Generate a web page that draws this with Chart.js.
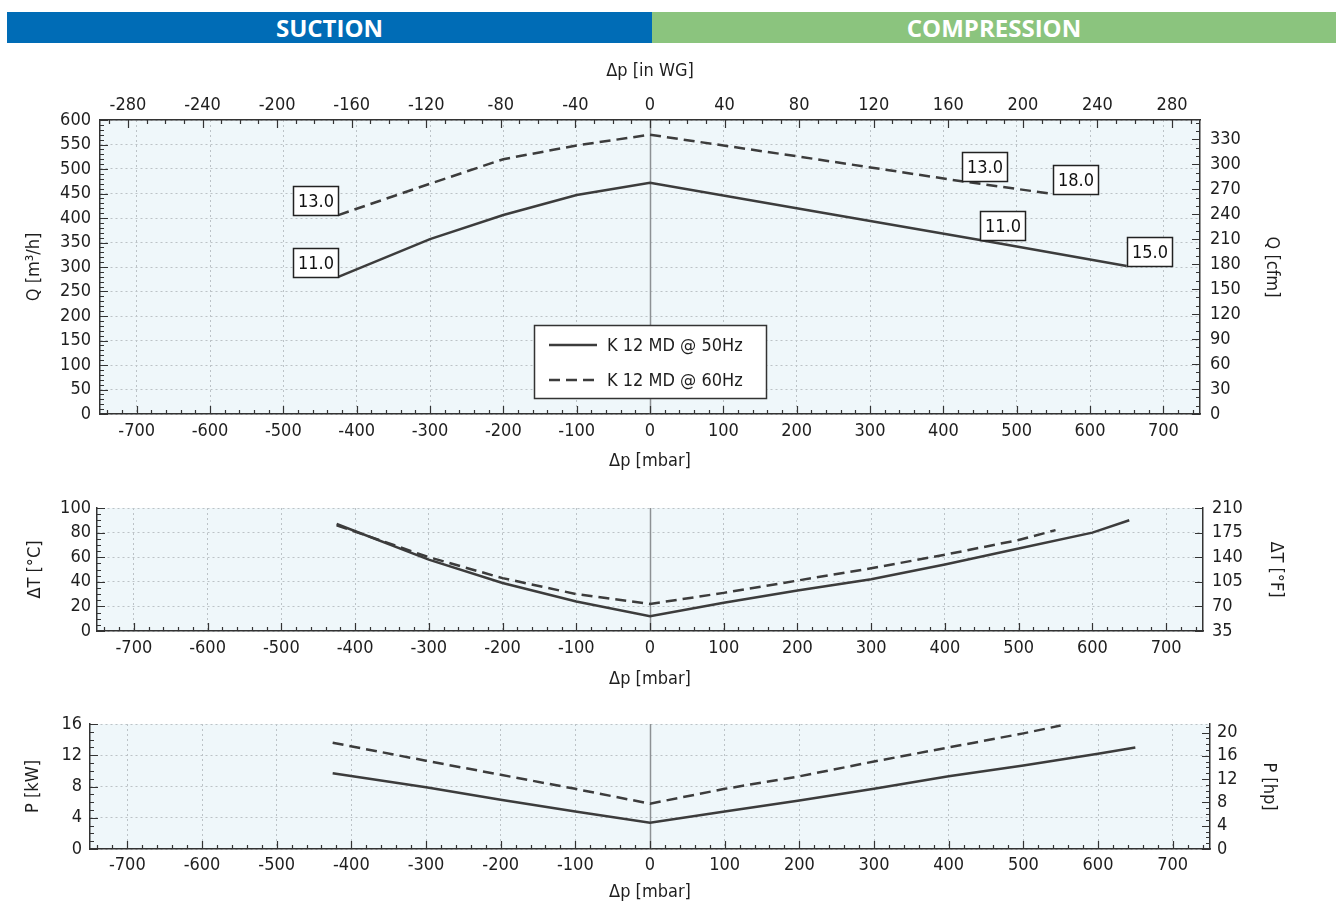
<!DOCTYPE html>
<html><head><meta charset="utf-8">
<script src="https://cdn.jsdelivr.net/npm/chart.js@4.4.1/dist/chart.umd.min.js"></script>
<style>
html,body{margin:0;padding:0;background:#fff;width:1336px;height:903px;overflow:hidden;position:relative}
.band{position:absolute;top:12px;height:31px;color:#fff;font:bold 24px 'Open Sans',sans-serif;display:flex;align-items:center;justify-content:center;}
#suction{left:7px;width:645px;background:#006cb6}
#compression{left:652px;width:684px;background:#8bc47e}
.cv{position:absolute;left:0;width:1336px}
</style></head><body>
<div class="band" id="suction">SUCTION</div>
<div class="band" id="compression">COMPRESSION</div>
<div class="cv" style="top:50px;height:430px"><canvas id="c1"></canvas></div>
<div class="cv" style="top:490px;height:210px"><canvas id="c2"></canvas></div>
<div class="cv" style="top:705px;height:198px"><canvas id="c3"></canvas></div>
<script>
// ---------- data ----------
const seriesLabels = ['K 12 MD @ 50Hz', 'K 12 MD @ 60Hz'];

const dpMin = -750, dpMax = 750;
const dpTicks = [-700,-600,-500,-400,-300,-200,-100,0,100,200,300,400,500,600,700];
const wgMin = -295, wgMax = 295;
const wgTicks = [-280,-240,-200,-160,-120,-80,-40,0,40,80,120,160,200,240,280];

// Flow chart
const qTicks = [0,50,100,150,200,250,300,350,400,450,500,550,600];
const cfmTicks = [0,30,60,90,120,150,180,210,240,270,300,330];
const qMax = 600, cfmMax = 353.2;
const dpQ50 = [-425,-300,-200,-100,0,200,450,650];
const q50   = [280,357,406,447,472,420,355,302];
const dpQ60 = [-425,-300,-200,-100,0,200,425,550];
const q60   = [406,470,520,548,570,526,475,449];
const markDp50 = [-425,450,650];
const markTxt50 = ['11.0','11.0','15.0'];
const markDp60 = [-425,425,550];
const markTxt60 = ['13.0','13.0','18.0'];

// Temperature chart
const tTicks = [0,20,40,60,80,100];
const fTicks = [35,70,105,140,175,210];
const tMax = 100, fMin = 35, fMax = 210;
const dpT50 = [-425,-300,-200,-100,0,100,200,300,400,500,600,650];
const t50   = [87,58,39,24,12,23,33,42,54,67,80,90];
const dpT60 = [-425,-300,-200,-100,0,100,200,300,400,500,550];
const t60   = [86,60,43,30,22,31,41,51,62,74,82];

// Power chart
const pTicks = [0,4,8,12,16];
const hpTicks = [0,4,8,12,16,20];
const pMax = 16, hpMax = 21.46;
const dpP50 = [-425,-300,-200,-100,0,100,200,300,400,500,600,650];
const p50   = [9.7,7.9,6.3,4.8,3.35,4.8,6.2,7.7,9.3,10.7,12.2,13.0];
const dpP60 = [-425,-300,-200,-100,0,100,200,300,400,500,550];
const p60   = [13.6,11.3,9.5,7.7,5.8,7.7,9.3,11.2,13.0,14.8,15.8];

// ---------- styling ----------
const FONT = "'DejaVu Sans Condensed','DejaVu Sans',sans-serif";
const TXT = '#1e1e1e';
const LINE = '#3c3c3c';
const GRID = '#bcc3c7';
const PLOT_BG = '#eff7fa';
const DASH = [11,6];

function zip(xs, ys){ return xs.map((x,i)=>({x:x, y:ys[i]})); }
function setTicks(arr){ return s => { s.ticks = arr.map(v => ({value:v})); }; }

function datasets(d50x,d50y,d60x,d60y){
  return [
    {label:seriesLabels[0], data:zip(d50x,d50y), borderColor:LINE, borderWidth:2.5, pointRadius:0, fill:false, tension:0, yAxisID:'y'},
    {label:seriesLabels[1], data:zip(d60x,d60y), borderColor:LINE, borderWidth:2.5, pointRadius:0, fill:false, tension:0, borderDash:DASH, yAxisID:'y'}
  ];
}

function xAxis(height, tickPad, titlePadBottom){
  return {
    type:'linear', position:'bottom', min:dpMin, max:dpMax,
    afterBuildTicks:setTicks(dpTicks),
    afterFit: s => { s.height = height; s.paddingLeft = 0; s.paddingRight = 0; },
    ticks:{font:{family:FONT,size:18}, color:TXT, padding:tickPad, maxRotation:0, autoSkip:false, callback:v=>String(v)},
    grid:{color:GRID, lineWidth:1, drawTicks:false},
    border:{display:true, color:'#333', width:1.5, dash:[2,3]},
    title:{display:true, text:'Δp [mbar]', font:{family:FONT,size:18}, color:TXT, padding:{top:0,bottom:titlePadBottom}}
  };
}
function yAxis(pos, width, min, max, ticksArr, title, tickPad, titlePad, grid){
  return {
    type:'linear', position:pos, min:min, max:max,
    afterBuildTicks:setTicks(ticksArr),
    afterFit: s => { s.width = width; s.paddingTop = 0; s.paddingBottom = 0; },
    ticks:{font:{family:FONT,size:18}, color:TXT, padding:tickPad, autoSkip:false, callback:v=>String(v)},
    grid:{display:grid, color:GRID, lineWidth:1, drawTicks:false},
    border:{display:true, color:'#333', width:1.5, dash:[2,3]},
    title:{display:true, text:title, font:{family:FONT,size:18}, color:TXT, padding:{top:titlePad,bottom:0}}
  };
}

function makeDeco(tickSpecs, extra){
  return {
    id:'deco',
    beforeDraw(chart){
      const {ctx, chartArea:a} = chart;
      ctx.save(); ctx.fillStyle = PLOT_BG;
      ctx.fillRect(a.left, a.top, a.right-a.left, a.bottom-a.top); ctx.restore();
    },
    beforeDatasetsDraw(chart){
      const {ctx, chartArea:a} = chart;
      const p = Math.round(chart.scales.x.getPixelForValue(0)) + 0.5;
      ctx.save(); ctx.strokeStyle = '#8d9194'; ctx.lineWidth = 1.5;
      ctx.beginPath(); ctx.moveTo(p, a.top); ctx.lineTo(p, a.bottom); ctx.stroke(); ctx.restore();
    },
    afterDraw(chart){
      const {ctx, chartArea:a} = chart;
      ctx.save(); ctx.strokeStyle = '#333'; ctx.lineWidth = 1.2;
      for (const sp of tickSpecs){
        const s = chart.scales[sp.id];
        const vals = sp.majors.map(v => [v, 8]);
        if (sp.minor){
          const start = Math.ceil(s.min / sp.minor) * sp.minor;
          for (let v = start; v <= s.max + 1e-9; v += sp.minor){
            if (!sp.majors.some(m => Math.abs(m - v) < 1e-6)) vals.push([v, 4]);
          }
        }
        ctx.beginPath();
        for (const [v, len] of vals){
          const p = Math.round(s.getPixelForValue(v)) + 0.5;
          if (sp.side === 'bottom'){ ctx.moveTo(p, a.bottom); ctx.lineTo(p, a.bottom - len); }
          else if (sp.side === 'top'){ ctx.moveTo(p, a.top); ctx.lineTo(p, a.top + len); }
          else if (sp.side === 'left'){ ctx.moveTo(a.left, p); ctx.lineTo(a.left + len, p); }
          else { ctx.moveTo(a.right, p); ctx.lineTo(a.right - len, p); }
        }
        ctx.stroke();
      }
      ctx.restore();
      if (extra) extra(chart);
    }
  };
}

function drawMarksAndLegend(chart){
  const {ctx} = chart; const xs = chart.scales.x, ys = chart.scales.y;
  ctx.save();
  ctx.font = '18px ' + FONT; ctx.textAlign = 'center'; ctx.textBaseline = 'middle';
  const groups = [[dpQ50,q50,markDp50,markTxt50],[dpQ60,q60,markDp60,markTxt60]];
  for (const [dps, qs, mds, mts] of groups){
    mds.forEach((d, i) => {
      const q = qs[dps.indexOf(d)];
      const px = xs.getPixelForValue(d), py = ys.getPixelForValue(q);
      const w = 45, h = 29;
      const bx = Math.round(d < 0 ? px - w : px) + 0.5;
      const by = Math.round(py - h) + 0.5;
      ctx.fillStyle = '#fff'; ctx.fillRect(bx, by, w, h);
      ctx.strokeStyle = '#222'; ctx.lineWidth = 1.5; ctx.strokeRect(bx, by, w, h);
      ctx.fillStyle = '#111'; ctx.fillText(mts[i], bx + w/2, by + h/2 + 1);
    });
  }
  // legend
  const lx = 534.5, ly = 275.5, lw = 232, lh = 73;
  ctx.fillStyle = '#fff'; ctx.fillRect(lx, ly, lw, lh);
  ctx.strokeStyle = '#333'; ctx.lineWidth = 1.5; ctx.strokeRect(lx, ly, lw, lh);
  const rows = [[295, []], [330, DASH]];
  rows.forEach(([yy, dash], i) => {
    ctx.strokeStyle = LINE; ctx.lineWidth = 2.5; ctx.setLineDash(dash);
    ctx.beginPath(); ctx.moveTo(549, yy); ctx.lineTo(597, yy); ctx.stroke();
    ctx.setLineDash([]);
    ctx.fillStyle = TXT; ctx.textAlign = 'left'; ctx.font = '18px ' + FONT;
    ctx.fillText(seriesLabels[i], 607, yy + 1);
  });
  ctx.restore();
}

const base = {responsive:true, maintainAspectRatio:false, animation:false, events:[],
  plugins:{legend:{display:false}, tooltip:{enabled:false}}};

// Chart 1: flow
new Chart(document.getElementById('c1'), {
  type:'line',
  data:{datasets:datasets(dpQ50,q50,dpQ60,q60)},
  options:Object.assign({}, base, {
    layout:{padding:0},
    scales:{
      x: xAxis(66, 7, 8),
      x2:{type:'linear', position:'top', min:wgMin, max:wgMax,
        afterBuildTicks:setTicks(wgTicks),
        afterFit: s => { s.height = 70; s.paddingLeft = 0; s.paddingRight = 0; },
        ticks:{font:{family:FONT,size:18}, color:TXT, padding:4, maxRotation:0, autoSkip:false, callback:v=>String(v)},
        grid:{display:false, drawTicks:false},
        border:{display:true, color:'#333', width:1.5},
        title:{display:true, text:'Δp [in WG]', font:{family:FONT,size:18}, color:TXT, padding:{top:11,bottom:0}}},
      y: yAxis('left', 100, 0, qMax, qTicks, 'Q [m³/h]', 9, 24, true),
      y2: yAxis('right', 136, 0, cfmMax, cfmTicks, 'Q [cfm]', 10, 54, false)
    }
  }),
  plugins:[makeDeco([
    {id:'x', majors:dpTicks, minor:20, side:'bottom'},
    {id:'x2', majors:wgTicks, minor:10, side:'top'},
    {id:'y', majors:qTicks, minor:10, side:'left'},
    {id:'y2', majors:cfmTicks, minor:10, side:'right'}
  ], drawMarksAndLegend)]
});

// Chart 2: temperature
new Chart(document.getElementById('c2'), {
  type:'line',
  data:{datasets:datasets(dpT50,t50,dpT60,t60)},
  options:Object.assign({}, base, {
    layout:{padding:{top:18,left:0,right:0,bottom:0}},
    scales:{
      x: xAxis(69, 7, 10),
      y: yAxis('left', 97, 0, tMax, tTicks, 'ΔT [°C]', 6, 25, true),
      y2: yAxis('right', 133, fMin, fMax, fTicks, 'ΔT [°F]', 9, 50, false)
    }
  }),
  plugins:[makeDeco([
    {id:'x', majors:dpTicks, minor:20, side:'bottom'},
    {id:'y', majors:tTicks, minor:5, side:'left'},
    {id:'y2', majors:fTicks, minor:0, side:'right'}
  ])]
});

// Chart 3: power
new Chart(document.getElementById('c3'), {
  type:'line',
  data:{datasets:datasets(dpP50,p50,dpP60,p60)},
  options:Object.assign({}, base, {
    layout:{padding:{top:19,left:0,right:0,bottom:0}},
    scales:{
      x: xAxis(54, 6, 0),
      y: yAxis('left', 90, 0, pMax, pTicks, 'P [kW]', 8, 23, true),
      y2: yAxis('right', 126, 0, hpMax, hpTicks, 'P [hp]', 7, 57, false)
    }
  }),
  plugins:[makeDeco([
    {id:'x', majors:dpTicks, minor:20, side:'bottom'},
    {id:'y', majors:pTicks, minor:1, side:'left'},
    {id:'y2', majors:hpTicks, minor:1, side:'right'}
  ])]
});
</script>
</body></html>
